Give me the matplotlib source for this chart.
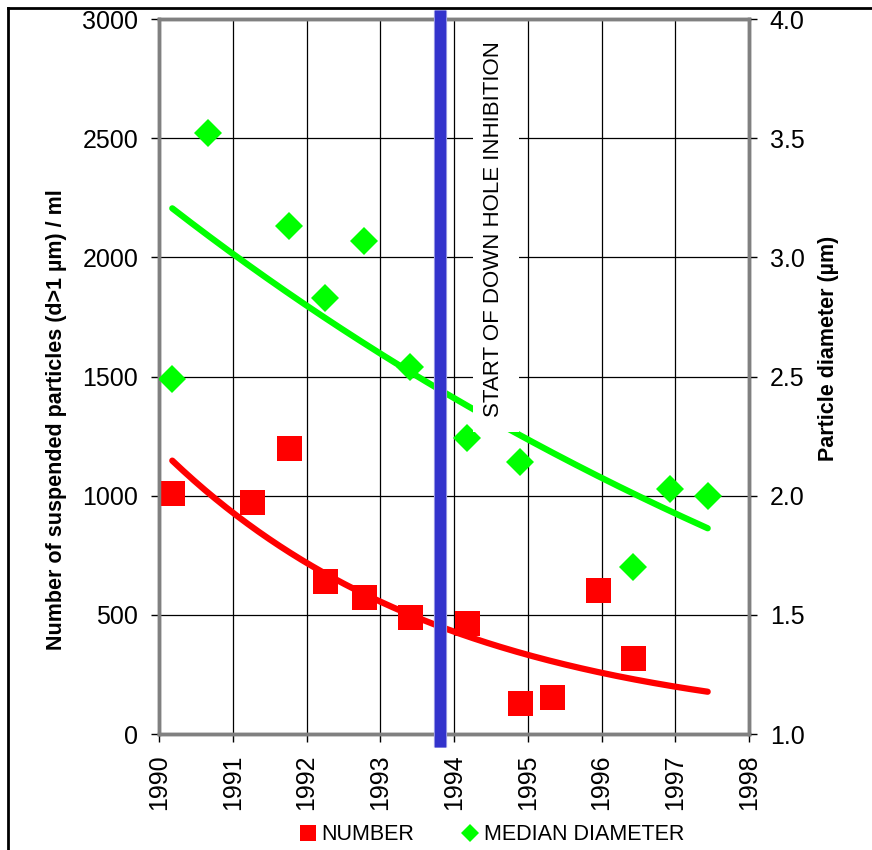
import numpy as np
import matplotlib
matplotlib.use('Agg')
import matplotlib.pyplot as plt
from matplotlib.lines import Line2D
from matplotlib.patches import Rectangle

plt.rcParams['font.family'] = ['Liberation Sans', 'DejaVu Sans']
plt.rcParams['xtick.labelsize'] = 18
plt.rcParams['ytick.labelsize'] = 18

# particle counts (left axis)
num_year = [1990.18, 1991.26, 1991.76, 1992.25, 1992.78, 1993.40, 1994.18,
            1994.89, 1995.33, 1995.95, 1996.43]
num_value = [1010, 975, 1200, 640, 575, 490, 465, 130, 155, 605, 320]

# median diameter (right axis)
dia_year = [1990.18, 1990.66, 1991.76, 1992.25, 1992.78, 1993.40, 1994.18,
            1994.89, 1996.43, 1996.93, 1997.44]
dia_value = [2.49, 3.52, 3.13, 2.83, 3.07, 2.54, 2.24, 2.14, 1.70, 2.03, 2.00]

inhibition_year = 1993.81
x_ticks = list(range(1990, 1999))
left_ticks = [0, 500, 1000, 1500, 2000, 2500, 3000]
right_ticks = [1.0, 1.5, 2.0, 2.5, 3.0, 3.5, 4.0]

# exponential trendlines (like excel), fitted on the data over the shared x range
trend_x = np.linspace(min(num_year + dia_year), max(num_year + dia_year), 200)
b, a = np.polyfit(num_year, np.log(num_value), 1)
num_trend = np.exp(a + b * trend_x)
b2, a2 = np.polyfit(dia_year, np.log(dia_value), 1)
dia_trend = np.exp(a2 + b2 * trend_x)

fig = plt.figure(figsize=(8.72, 8.5), dpi=100)
ax1 = fig.add_axes([159/872, 116/850, 590/872, 715/850])
ax2 = ax1.twinx()

ax1.set_xlim(1990, 1998)
ax1.set_ylim(0, 3000)
ax2.set_ylim(1.0, 4.0)

ax1.set_xticks(x_ticks)
ax1.set_xticklabels([str(x) for x in x_ticks], rotation=90, fontsize=18)
ax1.set_yticks(left_ticks)
ax1.set_yticklabels([str(v) for v in left_ticks], fontsize=18)
ax2.set_yticks(right_ticks)
ax2.set_yticklabels(['%.1f' % v for v in right_ticks], fontsize=18)

ax1.grid(True, color='black', linewidth=0.9, zorder=0)
ax1.set_axisbelow(True)

for ax in (ax1, ax2):
    for s in ax.spines.values():
        s.set_color('#808080')
        s.set_linewidth(2.5)
    ax.tick_params(axis='both', which='major', direction='out', length=6,
                   width=1, color='black', pad=9)

ax1.plot(num_year, num_value, 's', color='#ff0000', markersize=18,
         markeredgewidth=0, zorder=3)
ax1.plot(trend_x, num_trend, '-', color='#ff0000', linewidth=4.5,
         solid_capstyle='round', zorder=2)

ax2.plot(dia_year, dia_value, 'D', color='#00ff00', markersize=14,
         markeredgewidth=0, zorder=3)
ax2.plot(trend_x, dia_trend, '-', color='#00ff00', linewidth=4.5,
         solid_capstyle='round', zorder=2)

# white box behind the label, then the label
ax2.add_patch(Rectangle((1994.26, 1267), 0.62, 1715, transform=ax1.transData,
                        facecolor='white', edgecolor='none', zorder=5))
ax2.text(1994.54, 2119, 'START OF DOWN HOLE INHIBITION', transform=ax1.transData,
         rotation=90, ha='center', va='center', fontsize=16, zorder=6)

# vertical marker line, drawn past the plot area like the original
blend = ax1.get_xaxis_transform()
ax2.plot([inhibition_year, inhibition_year], [-0.018, 1.013], transform=blend,
         color='#9999e6', linewidth=9.5, clip_on=False, zorder=7,
         solid_capstyle='butt')
ax2.plot([inhibition_year, inhibition_year], [-0.018, 1.013], transform=blend,
         color='#3333cc', linewidth=8, clip_on=False, zorder=8,
         solid_capstyle='butt')

ax1.set_ylabel('Number of suspended particles (d>1 µm) / ml', fontsize=15.5,
               fontweight='bold')
ax1.yaxis.set_label_coords(-0.156, 0.44)
ax2.set_ylabel('Particle diameter (µm)', fontsize=15.5, fontweight='bold')
ax2.yaxis.set_label_coords(1.117, 0.54)

handles = [Line2D([], [], marker='s', color='#ff0000', linestyle='none',
                  markersize=12, markeredgewidth=0),
           Line2D([], [], marker='D', color='#00ff00', linestyle='none',
                  markersize=9.5, markeredgewidth=0)]
fig.legend(handles, ['NUMBER', 'MEDIAN DIAMETER'], loc='center',
           bbox_to_anchor=(0.564, 15/850), ncol=2, frameon=False, fontsize=15.5,
           handlelength=0.8, handletextpad=0.25, columnspacing=2.2,
           borderpad=0, borderaxespad=0)

# outer border (left and top edges visible)
fig.add_artist(Line2D([8/872, 8/872], [0, 842/850], color='black', linewidth=2))
fig.add_artist(Line2D([8/872, 1], [842/850, 842/850], color='black', linewidth=2))

fig.savefig('out.png', dpi=100)
